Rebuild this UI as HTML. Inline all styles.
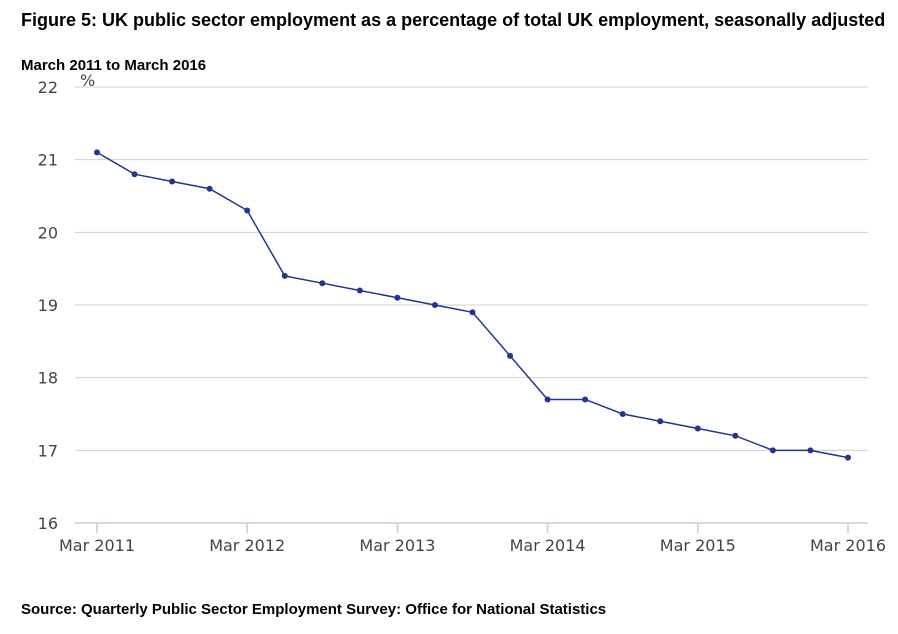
<!DOCTYPE html>
<html><head><meta charset="utf-8"><style>
body{margin:0;background:#fff;font-family:"Liberation Sans",Arial,sans-serif}
svg{display:block}
</style></head><body>
<svg width="898" height="634" id="c">
<text x="21" y="26" font-size="18" font-weight="bold" fill="#000">Figure 5: UK public sector employment as a percentage of total UK employment, seasonally adjusted</text>
<text x="21" y="70" font-size="15" font-weight="bold" fill="#000">March 2011 to March 2016</text>
<text x="80" y="86" font-size="16" fill="#444" font-family="DejaVu Sans, sans-serif">%</text>
<text x="21" y="614" font-size="15" font-weight="bold" fill="#000">Source: Quarterly Public Sector Employment Survey: Office for National Statistics</text>
<g id="grid"></g><g id="axes" font-family="DejaVu Sans, sans-serif"></g><g id="series"></g>
</svg>
<script>
const quarters=["Mar 2011","Jun 2011","Sep 2011","Dec 2011","Mar 2012","Jun 2012","Sep 2012","Dec 2012","Mar 2013","Jun 2013","Sep 2013","Dec 2013","Mar 2014","Jun 2014","Sep 2014","Dec 2014","Mar 2015","Jun 2015","Sep 2015","Dec 2015","Mar 2016"];
const values=[21.1,20.8,20.7,20.6,20.3,19.4,19.3,19.2,19.1,19.0,18.9,18.3,17.7,17.7,17.5,17.4,17.3,17.2,17.0,17.0,16.9];
const yTicks=[16,17,18,19,20,21,22];
const xTickLabels=["Mar 2011","Mar 2012","Mar 2013","Mar 2014","Mar 2015","Mar 2016"];
const NS="http://www.w3.org/2000/svg";
const x=i=>97+i*(848-97)/(quarters.length-1);
const y=v=>523-(v-16)*(523-87)/6;
function mk(t,a,p){const e=document.createElementNS(NS,t);for(const k in a)e.setAttribute(k,a[k]);p.appendChild(e);return e;}
const g=document.getElementById('grid'),ax=document.getElementById('axes'),s=document.getElementById('series');
yTicks.forEach(v=>{
 if(v>16){const l=mk('line',{x1:75,x2:868,y1:y(v),y2:y(v),stroke:'#d0d0d0','stroke-width':1},g);
 
 }
 const t=mk('text',{x:58,y:y(v)+6,'font-size':16,fill:'#444','text-anchor':'end'},ax);t.textContent=v;
 
 
});
const base=mk('line',{x1:75,x2:868,y1:523,y2:523,stroke:'#c0cfe0','stroke-width':1.5},ax);


xTickLabels.forEach(lbl=>{
 const i=quarters.indexOf(lbl);
 const tk=mk('line',{x1:x(i),x2:x(i),y1:523,y2:533,stroke:'#c0cfe0','stroke-width':1.5},ax);
 
 
 const t=mk('text',{x:x(i),y:551,'font-size':16,fill:'#444','text-anchor':'middle'},ax);t.textContent=lbl;
 
 
});
const line=mk('polyline',{points:values.map((v,i)=>x(i)+','+y(v)).join(' '),fill:'none',stroke:'#20368f','stroke-width':1.5},s);


values.forEach((v,i)=>{
 const c=mk('circle',{cx:x(i),cy:y(v),r:3,fill:'#20368f'},s);
 
 
});
</script>
</body></html>
